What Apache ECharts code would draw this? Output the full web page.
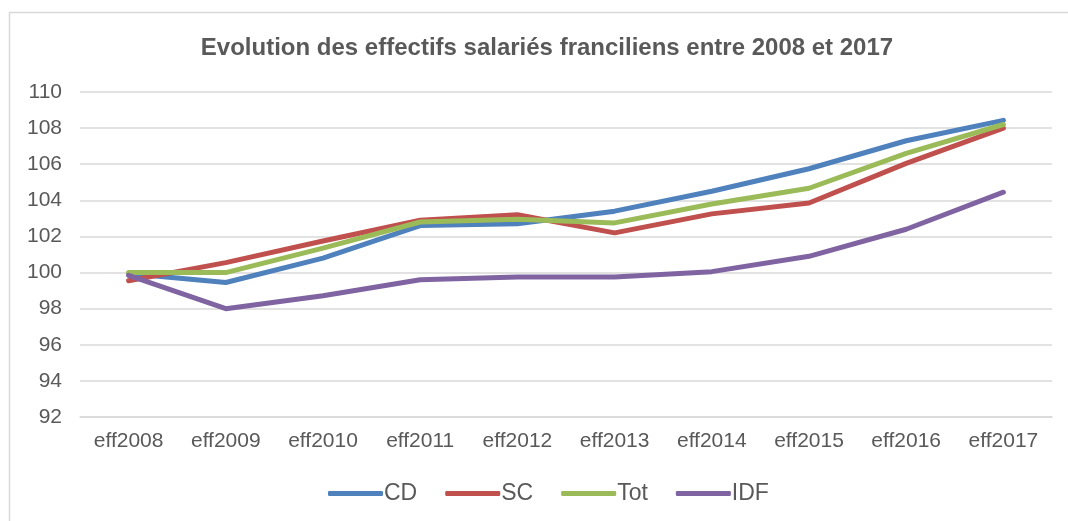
<!DOCTYPE html>
<html>
<head>
<meta charset="utf-8">
<script src="https://cdn.jsdelivr.net/npm/echarts@6/dist/echarts.min.js"></script>
<style>
  html, body { margin: 0; padding: 0; background: #fff; }
  #echarts { width: 1068px; height: 521px; }
</style>
</head>
<body>
<div id="echarts"></div>
<script>
  // categories & series
  var years = ['eff2008', 'eff2009', 'eff2010', 'eff2011', 'eff2012', 'eff2013', 'eff2014', 'eff2015', 'eff2016', 'eff2017']
  var cd = [99.95, 99.45, 100.8, 102.6, 102.7, 103.4, 104.5, 105.75, 107.3, 108.43]
  var sc = [99.55, 100.55, 101.75, 102.9, 103.2, 102.2, 103.25, 103.85, 106.05, 108.0]
  var tot = [100.0, 100.0, 101.35, 102.8, 102.95, 102.75, 103.8, 104.67, 106.6, 108.2]
  var idf = [99.85, 98.0, 98.72, 99.6, 99.75, 99.75, 100.05, 100.9, 102.4, 104.45]

  var txt = '#595959'
  var font = 'Liberation Sans, Arial, sans-serif'

  var mkLine = function (name, color, data) {
    return {
      name: name,
      type: 'line',
      data: data,
      symbol: 'none',
      smooth: false,
      lineStyle: { width: 5, color: color, cap: 'round', join: 'round' },
      itemStyle: { color: color }
    }
  }

  var myChart = echarts.init(document.getElementById('echarts'))
  myChart.setOption({
    animation: false,
    backgroundColor: '#fff',
    textStyle: { fontFamily: font },
    graphic: [{
      type: 'rect',
      shape: { x: 9.5, y: 12.5, width: 1100, height: 600 },
      style: { fill: 'none', stroke: '#d9d9d9', lineWidth: 1.5 },
      silent: true
    }],
    title: {
      text: 'Evolution des effectifs salariés franciliens entre 2008 et 2017',
      left: 542,
      textAlign: 'center',
      top: 31,
      textStyle: { color: txt, fontSize: 24, fontWeight: 'bold', fontFamily: font }
    },
    legend: {
      data: ['CD', 'SC', 'Tot', 'IDF'],
      top: 477,
      left: 323,
      icon: 'roundRect',
      itemWidth: 55,
      itemHeight: 5,
      itemGap: 28,
      textStyle: { color: txt, fontSize: 23, fontFamily: font, padding: [0, 0, 0, -4] }
    },
    grid: { left: 80, right: 16, top: 92, bottom: 104 },
    xAxis: {
      type: 'category',
      data: years,
      boundaryGap: true,
      axisLine: { show: true, lineStyle: { color: '#d9d9d9', width: 1.5 } },
      axisTick: { show: false },
      axisLabel: { color: txt, fontSize: 21, margin: 14, fontFamily: font }
    },
    yAxis: {
      type: 'value',
      min: 92,
      max: 110,
      interval: 2,
      axisLine: { show: false },
      axisTick: { show: false },
      axisLabel: { color: txt, fontSize: 21, margin: 18, fontFamily: font },
      splitLine: { show: true, lineStyle: { color: '#d9d9d9', width: 1.5 } }
    },
    series: [
      mkLine('CD', '#4F81BD', cd),
      mkLine('SC', '#C0504D', sc),
      mkLine('Tot', '#9BBB59', tot),
      mkLine('IDF', '#8064A2', idf)
    ]
  })
</script>
</body>
</html>
